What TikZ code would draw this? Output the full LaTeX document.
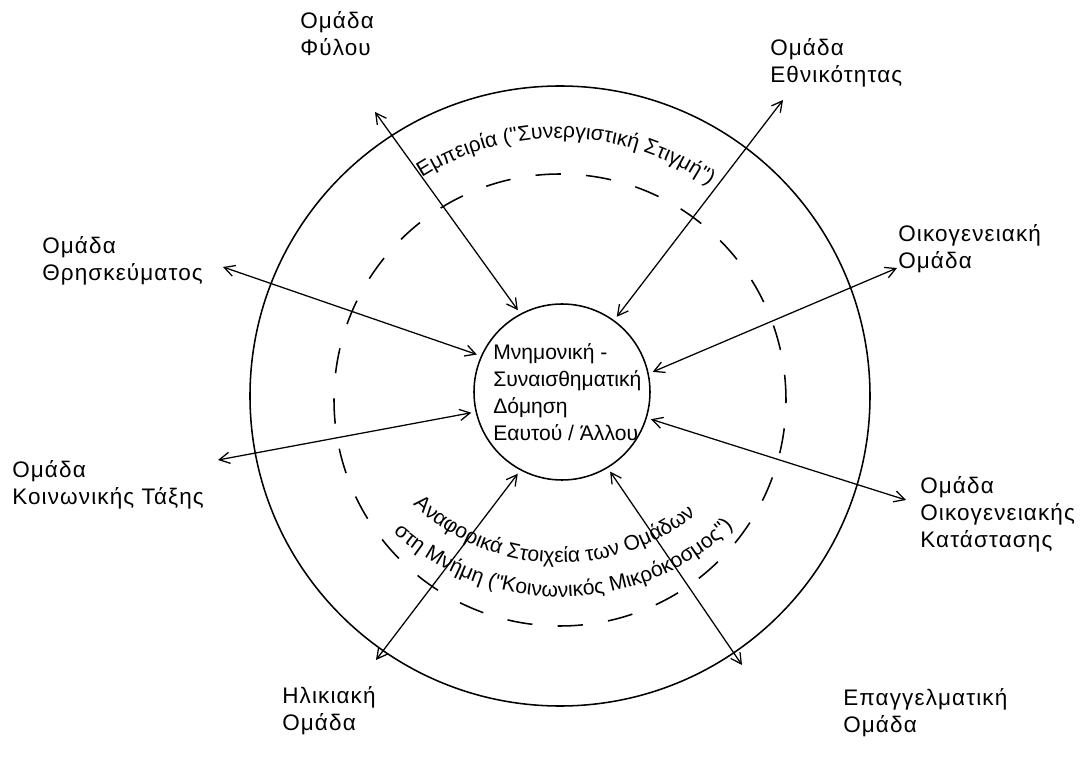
\documentclass[tikz,border=0pt]{standalone}
\usepackage{fontspec}
\setmainfont{Liberation Sans}
\newfontfamily\grpfont[LetterSpace=5]{Liberation Sans}
\newfontfamily\arcfont[Ligatures=TeXOff]{Liberation Sans}
\usetikzlibrary{arrows.meta,decorations.text}

\begin{document}
\begin{tikzpicture}[
  every node/.style={font=\fontsize{15}{19.2}\selectfont},
  grp/.style={align=left, anchor=north west, inner sep=0pt, font=\grpfont\fontsize{16}{19.4}\selectfont},
  link/.style={{Straight Barb[length=2.6mm,width=2.8mm]}-{Straight Barb[length=2.6mm,width=2.8mm]}, line width=0.9pt, shorten >=3pt},
  ring/.style={line width=1.1pt},
  arctext/.style={decorate, decoration={text along path, text align=center, text={#1}}}
]
\useasboundingbox (-14,-9.075) rectangle (13,9.9);

% rings
\draw[ring] (0,0) circle (7.75);
\draw[ring, dash pattern=on 18pt off 18pt] (0,-0.1) circle (5.65);

\node[circle, draw, ring, minimum size=4.4cm] (self) at (0.05,0.1) {};
\node[align=left, anchor=west, inner sep=0pt] (selftext) at (-1.675,0.1) {Μνημονική -\\Συναισθηματική\\Δόμηση\\Εαυτού / Άλλου};

% groups
\node[grp] (sex) at (-6.5,9.625) {Ομάδα\\Φύλου};
\node[grp] (eth) at (5.25,8.95) {Ομάδα\\Εθνικότητας};
\node[grp] (rel) at (-12.95,4.0) {Ομάδα\\Θρησκεύματος};
\node[grp] (fam) at (8.45,4.3) {Οικογενειακή\\Ομάδα};
\node[grp] (cls) at (-13.7,-1.6) {Ομάδα\\Κοινωνικής Τάξης};
\node[grp] (mar) at (9.0,-2.0) {Ομάδα\\Οικογενειακής\\Κατάστασης};
\node[grp] (age) at (-6.95,-7.25) {Ηλικιακή\\Ομάδα};
\node[grp] (job) at (7.075,-7.3) {Επαγγελματική\\Ομάδα};

\coordinate (c-sex) at (-4.625,7.1);
\coordinate (c-eth) at (5.575,7.4);
\coordinate (c-rel) at (-8.425,3.225);
\coordinate (c-fam) at (8.425,3.2);
\coordinate (c-cls) at (-8.55,-1.6);
\coordinate (c-mar) at (8.65,-2.6);
\coordinate (c-age) at (-4.6,-6.6);
\coordinate (c-job) at (4.55,-6.725);

\draw[link] (c-sex) -- (self.118);
\draw[link] (c-eth) -- (self.54);
\draw[link] (c-rel) -- (self.156);
\draw[link] (c-fam) -- (self.12);
\draw[link] (c-cls) -- (self.193);
\draw[link] (c-mar) -- (self.343);
\draw[link] (c-age) -- (self.242);
\draw[link] (c-job) -- (self.301);

% curved texts
\path[arctext={|\arcfont\fontsize{15}{17}\selectfont|Εμπειρία ("Συνεργιστική Στιγμή")}]
  (0,0) ++(123:6.45) arc[start angle=123, end angle=54, radius=6.45];
\path[arctext={|\arcfont\fontsize{15}{17}\selectfont|Αναφορικά Στοιχεία των Ομάδων}]
  (0,1.2) ++(222:5.375) arc[start angle=222, end angle=314, radius=5.375];
\path[arctext={|\arcfont\fontsize{15}{17}\selectfont|στη Μνήμη ("Κοινωνικός Μικρόκοσμος")}]
  (0,1.2) ++(228:6.225) arc[start angle=228, end angle=314, radius=6.225];
\end{tikzpicture}
\end{document}
